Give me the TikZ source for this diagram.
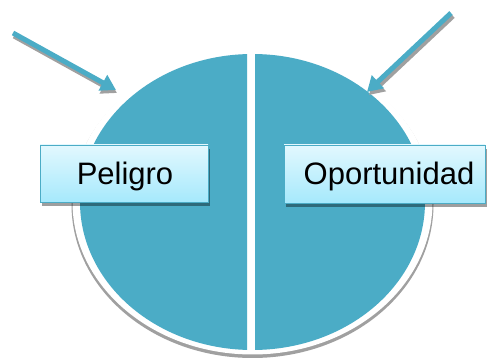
\documentclass[tikz,border=0pt]{standalone}
\usepackage{fontspec}
\setmainfont{Liberation Sans}
\usetikzlibrary{arrows.meta}
\definecolor{tealfill}{HTML}{4BACC6}
\definecolor{boxtop}{HTML}{E2F8FE}
\definecolor{boxbot}{HTML}{A6E9FC}
\definecolor{shadowgrey}{HTML}{A0A0A0}
\begin{document}
\begin{tikzpicture}[x=1pt,y=-1pt,
  arrowline/.style={draw=tealfill, line width=5pt, -{Triangle[length=15pt,width=17pt]}},
  arrowshadow/.style={draw=shadowgrey, line width=5pt, -{Triangle[length=15pt,width=17pt]}},
  labelbox/.style={draw=tealfill, line width=0.8pt, top color=boxtop, bottom color=boxbot, inner sep=0pt},
  boxshadow/.style={fill=black, fill opacity=0.38, draw=none, inner sep=0pt},
  labeltext/.style={font=\fontsize{31pt}{37pt}\selectfont, text=black, inner sep=0pt, anchor=base}
]
\useasboundingbox (0,0) rectangle (488,358);
% ellipse shadow and white rim
\fill[shadowgrey] (252.5,204.5) ellipse [x radius=181pt, y radius=153.5pt];
\fill[white] (252.5,202) ellipse [x radius=180pt, y radius=152.5pt];
% two halves
\begin{scope}
  \clip (0,0) rectangle (247,358);
  \fill[tealfill] (252.5,202) ellipse [x radius=172.5pt, y radius=148pt];
\end{scope}
\begin{scope}
  \clip (255,0) rectangle (488,358);
  \fill[tealfill] (252.5,202) ellipse [x radius=172.5pt, y radius=148pt];
\end{scope}
% arrows
\coordinate (la0) at (13,33);
\coordinate (la1) at (116,90);
\coordinate (ra0) at (451,13);
\coordinate (ra1) at (367,92);
\draw[arrowshadow] ([shift={(1,3)}]la0) -- ([shift={(1,3)}]la1);
\draw[arrowshadow] ([shift={(2,3)}]ra0) -- ([shift={(2,3)}]ra1);
\draw[arrowline] (la0) -- (la1);
\draw[arrowline] (ra0) -- (ra1);
% boxes
\node[boxshadow, minimum width=168pt, minimum height=57pt] (pshadow) at (125.5,177.5) {};
\node[labelbox, minimum width=168pt, minimum height=57pt] (pbox) at (124,173.5) {};
\node[boxshadow, minimum width=201pt, minimum height=58pt] (oshadow) at (386,178) {};
\node[labelbox, minimum width=201pt, minimum height=58pt] (obox) at (384.5,174) {};
\node[labeltext] (plab) at (125,185) {Peligro};
\node[labeltext] (olab) at (389,185) {Oportunidad};
\end{tikzpicture}
\end{document}
